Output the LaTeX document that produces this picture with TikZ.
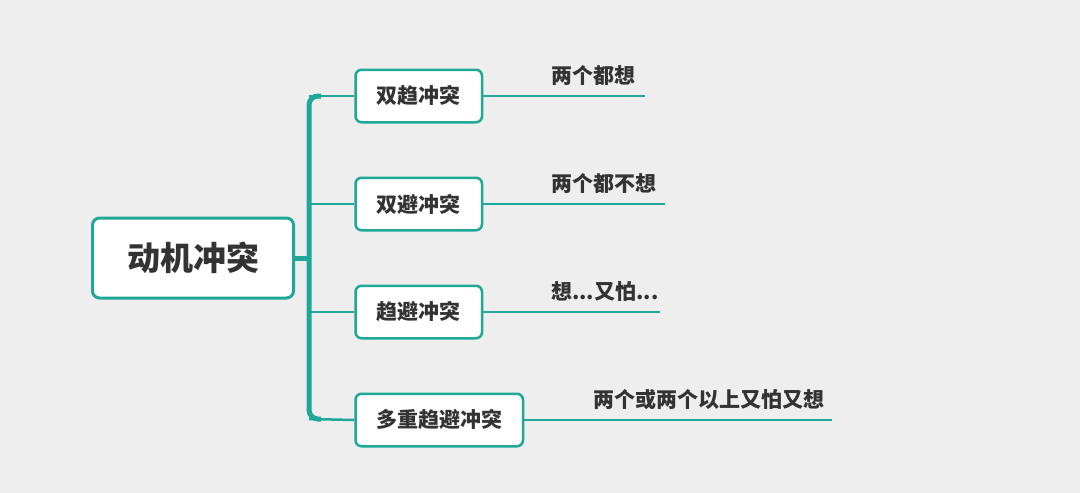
\documentclass[tikz,border=0pt]{standalone}
\usepackage{fontspec}
\newfontfamily\cjk{Noto Sans CJK SC}
\usetikzlibrary{positioning}
\definecolor{mapteal}{HTML}{1FA898}
\definecolor{mapbg}{HTML}{EEEEEE}
\definecolor{maptext}{HTML}{333333}

\tikzset{
  root/.style={rectangle, draw=mapteal, line width=3pt, rounded corners=7pt, fill=white, minimum width=201pt, minimum height=80pt, font=\cjk\bfseries\fontsize{33}{38}\selectfont, text=maptext},
  topic/.style={rectangle, draw=mapteal, line width=2.5pt, rounded corners=6pt, fill=white, minimum width=126.5pt, minimum height=52.5pt, font=\cjk\bfseries\fontsize{21}{25}\selectfont, text=maptext},
  note/.style={inner sep=0pt, font=\cjk\bfseries\fontsize{21}{25}\selectfont, text=maptext},
  trunk/.style={draw=mapteal, line width=5pt},
  branch/.style={draw=mapteal, line width=2.5pt}
}

\begin{document}
\begin{tikzpicture}[x=1pt, y=1pt]
  % Sfondo
  \fill[mapbg] (0,0) rectangle (1080,-493);
  \useasboundingbox (0,0) rectangle (1080,-493);

  % Tronco
  \coordinate (ttop) at (309,-96);
  \coordinate (tbot) at (309,-419);
  \coordinate (tmid) at (309,-258);
  \draw[trunk, rounded corners=9pt] (321,-96) -- (ttop) -- (tbot) -- (321,-419);

  % Nodo centrale
  \node[root] (motivo) at (193,-258) {动机冲突};

  % Sottotemi
  \node[topic, anchor=west] (dqc) at (354.25,-96) {双趋冲突};
  \node[topic, anchor=west] (dbc) at (354.25,-204) {双避冲突};
  \node[topic, anchor=west] (qbc) at (354.25,-312) {趋避冲突};
  \node[topic, anchor=west, minimum width=167.5pt] (dcq) at (354.25,-420) {多重趋避冲突};

  % Note
  \node[note, anchor=west] (ndqc) at (551,-76) {两个都想};
  \node[note, anchor=west] (ndbc) at (551,-184) {两个都不想};
  \node[note, anchor=west] (nqbc) at (551,-292) {想...又怕...};
  \node[note, anchor=west] (ndcq) at (593,-400) {两个或两个以上又怕又想};

  \coordinate (edqc) at (645,-96);
  \coordinate (edbc) at (665,-204);
  \coordinate (eqbc) at (660,-312);
  \coordinate (edcq) at (832,-420);

  % Collegamenti
  \draw[trunk] (motivo.east) -- (tmid);
  \draw[branch] (ttop) -- (dqc.west);
  \draw[branch] (309,-204) -- (dbc.west);
  \draw[branch] (309,-312) -- (qbc.west);
  \draw[branch] (tbot) -- (dcq.west);
  \draw[branch] (dqc.east) -- (edqc);
  \draw[branch] (dbc.east) -- (edbc);
  \draw[branch] (qbc.east) -- (eqbc);
  \draw[branch] (dcq.east) -- (edcq);
\end{tikzpicture}
\end{document}
